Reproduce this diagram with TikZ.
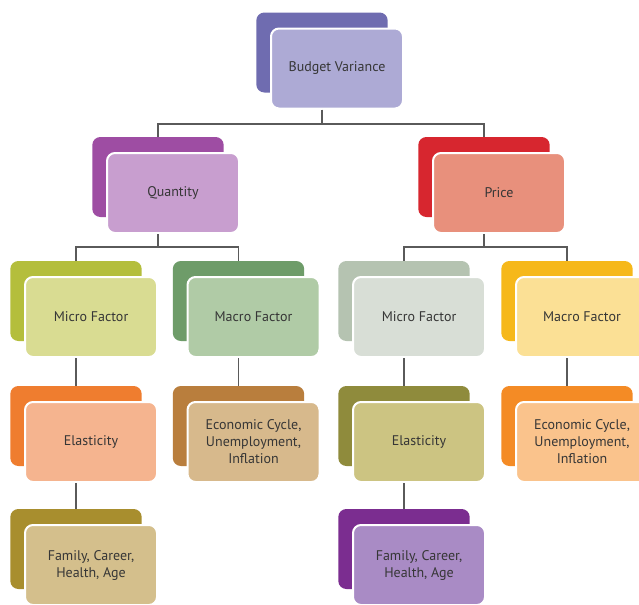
\documentclass[tikz,border=0pt]{standalone}
\usepackage{fontspec}
\setmainfont{PT Sans}
\definecolor{bvB}{HTML}{6F6CB0}\definecolor{bvF}{HTML}{ADAAD5}
\definecolor{qB}{HTML}{9E4DA3}\definecolor{qF}{HTML}{C89ECF}
\definecolor{pB}{HTML}{D7262F}\definecolor{pF}{HTML}{E8907C}
\definecolor{milB}{HTML}{B4BE3C}\definecolor{milF}{HTML}{D9DC92}
\definecolor{malB}{HTML}{6E9C69}\definecolor{malF}{HTML}{B0CBA6}
\definecolor{mirB}{HTML}{B5C3B1}\definecolor{mirF}{HTML}{D8DED6}
\definecolor{marB}{HTML}{F6B81A}\definecolor{marF}{HTML}{FBE095}
\definecolor{elB}{HTML}{EF7D2F}\definecolor{elF}{HTML}{F5B48F}
\definecolor{eclB}{HTML}{B97E3D}\definecolor{eclF}{HTML}{D7B98C}
\definecolor{flB}{HTML}{A88E2E}\definecolor{flF}{HTML}{D4BF8C}
\definecolor{erB}{HTML}{8F8B3C}\definecolor{erF}{HTML}{CCC482}
\definecolor{ecrB}{HTML}{F48B25}\definecolor{ecrF}{HTML}{FAC38C}
\definecolor{frB}{HTML}{7B2D90}\definecolor{frF}{HTML}{A98BC5}
\definecolor{txt}{HTML}{363636}
\definecolor{conn}{HTML}{5A5A5A}
\tikzset{
  backcard/.style={rectangle, rounded corners=6pt, minimum width=98.5pt, minimum height=60pt, inner sep=0pt},
  frontcard/.style={rectangle, rounded corners=6pt, draw=white, line width=1.5pt, minimum width=99pt, minimum height=60pt, inner sep=0pt, align=center, text=txt, font=\fontsize{10.5}{12.75}\selectfont},
  link/.style={draw=conn, line width=0.9pt}
}
\newcommand{\mycard}[6]{%
  \node[backcard, fill=#4] (#1B) at ($(#2,#3)+(-15,-16)$) {};
  \node[frontcard, fill=#5] (#1F) at (#2,#3) {#6};
}
\usetikzlibrary{calc}
\begin{document}
\begin{tikzpicture}[x=0.75pt,y=-0.75pt]
\useasboundingbox (0,0) rectangle (639,604);
\clip (0,0) rectangle (639,604);
\fill[white] (0,0) rectangle (639,604);
\mycard{bv}{337}{68.5}{bvB}{bvF}{Budget Variance}
\mycard{q}{173}{193}{qB}{qF}{Quantity}
\mycard{p}{499}{193}{pB}{pF}{Price}
\mycard{mil}{91}{317}{milB}{milF}{Micro Factor}
\mycard{mal}{253.5}{317}{malB}{malF}{Macro Factor}
\mycard{mir}{419}{317}{mirB}{mirF}{Micro Factor}
\mycard{mar}{582}{317}{marB}{marF}{Macro Factor}
\mycard{el}{91}{442}{elB}{elF}{Elasticity}
\mycard{ecl}{253.5}{442}{eclB}{eclF}{Economic Cycle,\\Unemployment,\\Inflation}
\mycard{er}{419}{442}{erB}{erF}{Elasticity}
\mycard{ecr}{582}{442}{ecrB}{ecrF}{Economic Cycle,\\Unemployment,\\Inflation}
\mycard{fl}{91}{565}{flB}{flF}{Family, Career,\\Health, Age}
\mycard{fr}{419}{565}{frB}{frF}{Family, Career,\\Health, Age}
% connectors
\draw[link] (bvB.south |- bvF.south) -- (bvB.south |- 0,124);
\draw[link] (qB.north) -- (qB.north |- 0,124) -| (pB.north);
\draw[link] (qB.south |- qF.south) -- (qB.south |- 0,247);
\draw[link] (milB.north) -- (milB.north |- 0,247) -| (malB.north);
\draw[link] (pB.south |- pF.south) -- (pB.south |- 0,247);
\draw[link] (mirB.north) -- (mirB.north |- 0,247) -| (marB.north);
\draw[link] (milB.south |- milF.south) -- (elB.north);
\draw[link] (malB.south |- malF.south) -- (eclB.north);
\draw[link] (mirB.south |- mirF.south) -- (erB.north);
\draw[link] (marB.south |- marF.south) -- (ecrB.north);
\draw[link] (elB.south |- elF.south) -- (flB.north);
\draw[link] (erB.south |- erF.south) -- (frB.north);
\end{tikzpicture}
\end{document}
